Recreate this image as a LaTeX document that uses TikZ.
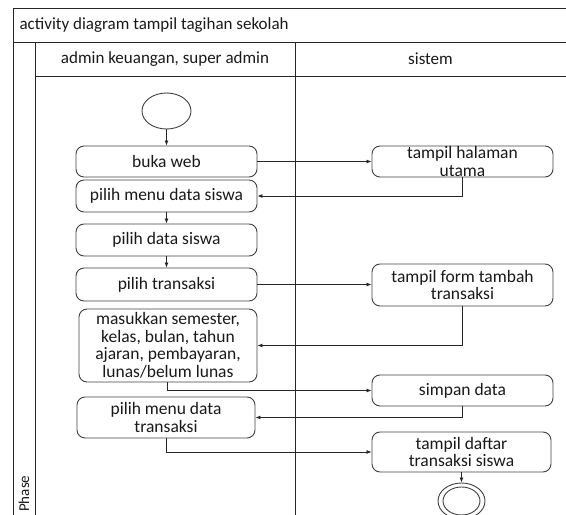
\documentclass[tikz,border=0pt]{standalone}
\usepackage{fontspec}
\setmainfont{Carlito}
\usetikzlibrary{arrows.meta,shapes.geometric}
\begin{document}
\begin{tikzpicture}[x=1pt,y=-1pt,
  frameline/.style={line width=0.9pt,draw=black!85},
  act/.style={draw=black!75,line width=0.9pt,rounded corners=8pt,align=center,
    font=\fontsize{17.5}{17.5}\selectfont,text=black!90,inner sep=1pt},
  flow/.style={line width=0.8pt,draw=black!85,-{Latex[length=5pt,width=4pt]}},
  lbl/.style={font=\fontsize{17}{19}\selectfont,text=black!90}]
\useasboundingbox (0,0) rectangle (566,515);
% frame
\draw[frameline] (566,8) -- (13,8) -- (13,520);
\draw[frameline] (13,42) -- (566,42);
\draw[frameline] (35,42) -- (35,520);
\draw[frameline] (35,76) -- (566,76);
\draw[frameline] (295,42) -- (295,520);
\node[lbl,anchor=west] (title) at (16,25) {activity diagram tampil tagihan sekolah};
\node[lbl] (lane1) at (165,59) {admin keuangan, super admin};
\node[lbl] (lane2) at (430.5,59) {sistem};
\node[lbl,rotate=90,font=\fontsize{15}{17}\selectfont,anchor=west,inner sep=1pt] (phase) at (24,513) {Phase};
% nodes
\node[draw=black!75,line width=0.9pt,ellipse,minimum width=49pt,minimum height=36pt,inner sep=0pt] (start) at (166.5,111) {};
\node[act,minimum width=181pt,minimum height=31pt] (buka) at (166.5,161.5) {buka web};
\node[act,minimum width=181pt,minimum height=32pt] (menusiswa) at (166.5,196) {pilih menu data siswa};
\node[act,minimum width=181pt,minimum height=32pt] (datasiswa) at (166.5,240) {pilih data siswa};
\node[act,minimum width=181pt,minimum height=33pt] (transaksi) at (166.5,284.5) {pilih transaksi};
\node[act,minimum width=178pt,minimum height=73pt] (masukkan) at (168,345.5) {masukkan semester,\\kelas, bulan, tahun\\ajaran, pembayaran,\\lunas/belum lunas};
\node[act,minimum width=178pt,minimum height=41pt] (menutrans) at (166,417.5) {pilih menu data\\transaksi};
\node[act,minimum width=181pt,minimum height=31pt,inner sep=0pt] (halaman) at (462.5,161.5) {tampil halaman\\utama};
\node[act,minimum width=181pt,minimum height=42pt] (form) at (462.5,285) {tampil form tambah\\transaksi};
\node[act,minimum width=181pt,minimum height=31pt] (simpan) at (462.5,390.5) {simpan data};
\node[act,minimum width=179pt,minimum height=40pt] (daftar) at (461.5,452) {tampil daftar\\transaksi siswa};
\node[draw=black!75,line width=0.9pt,ellipse,minimum width=47pt,minimum height=36pt,inner sep=0pt] (end) at (461.5,501) {};
\node[draw=black!75,line width=0.9pt,ellipse,minimum width=37pt,minimum height=28pt,inner sep=0pt] (endin) at (461.5,501) {};
% flows
\draw[flow] (start) -- (buka);
\draw[flow] (buka) -- (halaman);
\draw[flow] (halaman.south) |- (menusiswa.east);
\draw[flow] (menusiswa) -- (datasiswa);
\draw[flow] (datasiswa) -- (transaksi);
\draw[flow] (transaksi.east) -- (transaksi.east -| form.west);
\draw[flow] (form.south) |- (masukkan.east);
\draw[flow] ([xshift=-1pt]masukkan.south) |- (simpan.west);
\draw[flow] (simpan.south) |- (menutrans.east);
\draw[flow] (menutrans.south) |- (daftar.west);
\draw[flow] (daftar) -- (end);
\end{tikzpicture}
\end{document}
